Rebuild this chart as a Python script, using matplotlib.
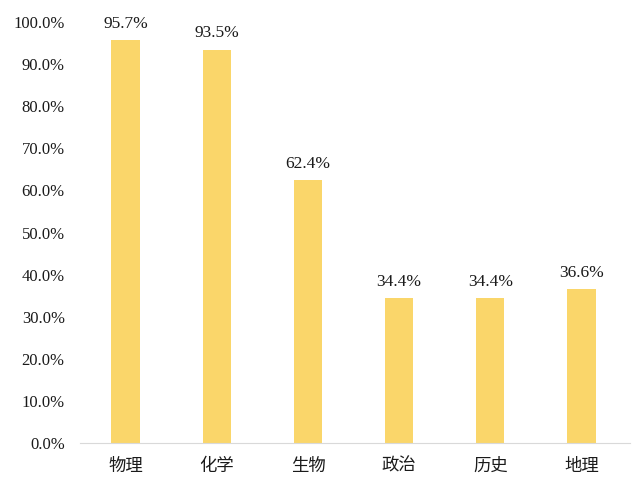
import matplotlib.pyplot as plt
from matplotlib.ticker import FuncFormatter

subjects = ["物理", "化学", "生物", "政治", "历史", "地理"]
rates = [95.7, 93.5, 62.4, 34.4, 34.4, 36.6]
yticks = [0, 10, 20, 30, 40, 50, 60, 70, 80, 90, 100]

fig = plt.figure(figsize=(6.4, 4.82), dpi=100)
ax = fig.add_axes([0.125, 0.081, 0.859, 0.873])

x = list(range(len(subjects)))
ax.bar(x, rates, width=0.31, color="#FAD66A", zorder=2)

# 数値ラベル
for xi, v in zip(x, rates):
    ax.text(xi, v + 2.0, f"{v:.1f}%", ha="center", va="bottom",
            fontsize=12.5, family="Liberation Serif", color="#1a1a1a")

ax.set_xlim(-0.5, 5.53)
ax.set_ylim(0, 100)
ax.set_yticks(yticks)
ax.yaxis.set_major_formatter(FuncFormatter(lambda v, p: f"{v:.1f}%"))
ax.set_xticks(x)
ax.set_xticklabels(subjects, family="Noto Sans CJK SC", fontsize=12.5, color="#1a1a1a")
for lab in ax.get_yticklabels():
    lab.set_family("Liberation Serif")
    lab.set_fontsize(12)
    lab.set_color("#1a1a1a")

for s in ["top", "right", "left"]:
    ax.spines[s].set_visible(False)
ax.spines["bottom"].set_color("#D9D9D9")
ax.tick_params(axis="both", length=0)
ax.tick_params(axis="y", pad=11)
ax.tick_params(axis="x", pad=10)

fig.savefig("out.png", dpi=100)
